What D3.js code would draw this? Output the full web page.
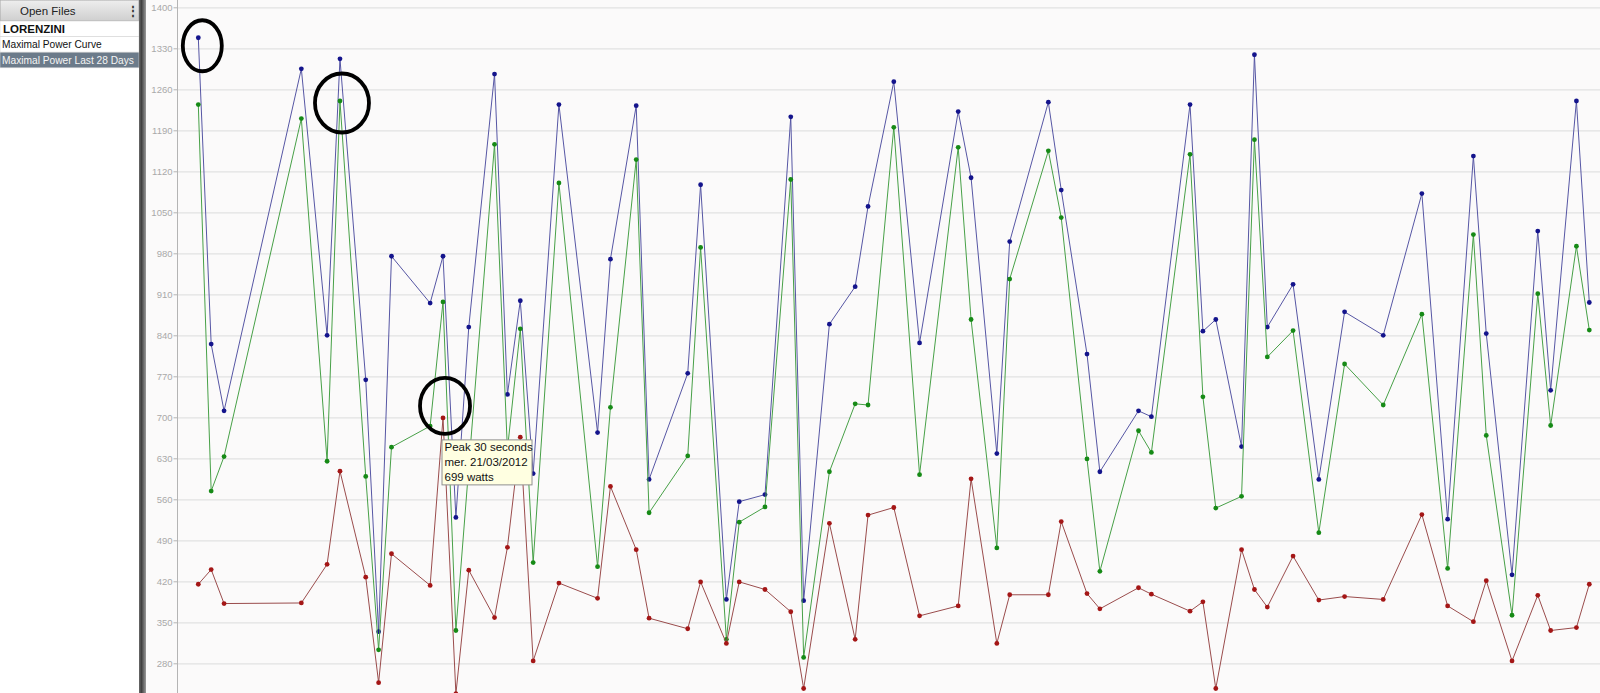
<!DOCTYPE html>
<html>
<head>
<meta charset="utf-8">
<script src="https://cdn.jsdelivr.net/npm/d3@7/dist/d3.min.js"></script>
<style>
  body { margin: 0; overflow: hidden; background: #fff; }
  svg { display: block; font-family: "Liberation Sans", Arial, sans-serif; }
</style>
</head>
<body>
<script>
const rideDates = [
    "2012-03-02", "2012-03-03", "2012-03-04", "2012-03-10", "2012-03-12", "2012-03-13",
    "2012-03-15", "2012-03-16", "2012-03-17", "2012-03-20", "2012-03-21", "2012-03-22",
    "2012-03-23", "2012-03-25", "2012-03-26", "2012-03-27", "2012-03-28", "2012-03-30",
    "2012-04-02", "2012-04-03", "2012-04-05", "2012-04-06", "2012-04-09", "2012-04-10",
    "2012-04-12", "2012-04-13", "2012-04-15", "2012-04-17", "2012-04-18", "2012-04-20",
    "2012-04-22", "2012-04-23", "2012-04-25", "2012-04-27", "2012-04-30", "2012-05-01",
    "2012-05-03", "2012-05-04", "2012-05-07", "2012-05-08", "2012-05-10", "2012-05-11",
    "2012-05-14", "2012-05-15", "2012-05-18", "2012-05-19", "2012-05-20", "2012-05-22",
    "2012-05-23", "2012-05-24", "2012-05-26", "2012-05-28", "2012-05-30", "2012-06-02",
    "2012-06-05", "2012-06-07", "2012-06-09", "2012-06-10", "2012-06-12", "2012-06-14",
    "2012-06-15", "2012-06-17", "2012-06-18"
];

// blue series
const peak5s = [
    1348, 825, 711, 1295, 840, 1312, 764, 334, 975, 895, 975, 529,
    854, 1286, 739, 899, 604, 1234, 674, 970, 1232, 594, 775, 1097,
    389, 556, 568, 1213, 387, 859, 923, 1060, 1273, 827, 1222, 1109,
    638, 1000, 1238, 1088, 808, 607, 711, 701, 1234, 847, 867, 650,
    1319, 854, 927, 594, 880, 840, 1082, 526, 1146, 843, 431, 1018,
    746, 1240, 896
];

// green series
const peak10s = [
    1234, 574, 633, 1210, 625, 1240, 599, 303, 649, 685, 897, 336,
    615, 1166, 645, 851, 452, 1100, 445, 717, 1140, 537, 634, 990,
    321, 521, 547, 1106, 290, 607, 723, 721, 1195, 602, 1161, 867,
    477, 936, 1155, 1041, 629, 437, 677, 640, 1149, 735, 545, 565,
    1174, 803, 848, 503, 791, 721, 876, 442, 1012, 669, 362, 911,
    686, 992, 849
];

// red series (Peak 30 seconds)
const peak30s = [
    415, 440, 382, 383, 449, 608, 427, 247, 467, 413, 699, 228,
    439, 358, 478, 666, 284, 417, 391, 582, 474, 357, 339, 419,
    314, 419, 406, 368, 237, 519, 321, 533, 546, 361, 378, 595,
    314, 397, 397, 522, 399, 373, 409, 398, 369, 385, 237, 474,
    406, 376, 463, 388, 394, 389, 534, 378, 351, 421, 284, 396,
    336, 341, 415
];

const yTickValues = [280, 350, 420, 490, 560, 630, 700, 770, 840, 910, 980, 1050, 1120, 1190, 1260, 1330, 1400];

const panelTitle = "Open Files";
const fileItems = ["LORENZINI", "Maximal Power Curve", "Maximal Power Last 28 Days"];

const tipLines = ["Peak 30 seconds", "mer. 21/03/2012", "699 watts"];
const tipIndex = 10;

let width = 1600, height = 693;
let plotLeft = 178;

let svg = d3.select("body").append("svg")
    .attr("width", width)
    .attr("height", height);

let parse = d3.utcParse("%Y-%m-%d");
let dates = rideDates.map(parse);

// ---- left panel ----
let panel = svg.append("g").attr("class", "panel");

panel.append("rect")
    .attr("width", 140).attr("height", height)
    .attr("fill", "#fff");

let hdr = svg.append("defs").append("linearGradient")
    .attr("id", "hdrGrad").attr("x1", 0).attr("y1", 0).attr("x2", 0).attr("y2", 1);
hdr.append("stop").attr("offset", "0%").attr("stop-color", "#eeeeee");
hdr.append("stop").attr("offset", "100%").attr("stop-color", "#cfcfcf");

let bar = svg.select("defs").append("linearGradient")
    .attr("id", "barGrad").attr("x1", 0).attr("y1", 0).attr("x2", 1).attr("y2", 0);
bar.append("stop").attr("offset", "0%").attr("stop-color", "#6a6a6a");
bar.append("stop").attr("offset", "35%").attr("stop-color", "#404040");
bar.append("stop").attr("offset", "100%").attr("stop-color", "#9a9a9a");

panel.append("rect")
    .attr("x", 0).attr("y", 0).attr("width", 139).attr("height", 21)
    .attr("fill", "url(#hdrGrad)").attr("stroke", "#a8a8a8").attr("stroke-width", 1);

panel.append("text")
    .attr("x", 20).attr("y", 15)
    .attr("font-size", 11.5).attr("fill", "#222")
    .text(panelTitle);

panel.append("text")
    .attr("x", 133).attr("y", 15)
    .attr("font-size", 12).attr("font-weight", "bold").attr("fill", "#333")
    .attr("text-anchor", "middle")
    .text("\u22EE");

let rows = panel.selectAll(".row")
    .data(fileItems)
    .enter()
    .append("g")
    .attr("class", "row")
    .attr("transform", function (d, i) {
        return "translate(0," + (21 + i * 15.6) + ")";
    });

rows.append("rect")
    .attr("width", 139).attr("height", 15.6)
    .attr("fill", function (d, i) { return i == 2 ? "#6c7b8a" : "#fff"; })
    .attr("stroke", "#d4d4d4").attr("stroke-width", 0.6);

rows.append("text")
    .attr("x", function (d, i) { return i == 0 ? 3 : 2; })
    .attr("y", 11.8)
    .attr("font-size", function (d, i) { return i == 0 ? 11.5 : 10.2; })
    .attr("font-weight", function (d, i) { return i == 0 ? "bold" : "normal"; })
    .attr("fill", function (d, i) { return i == 2 ? "#f4f4f4" : "#111"; })
    .text(function (d) { return d; });

panel.append("rect")
    .attr("x", 139).attr("y", 0).attr("width", 7).attr("height", height)
    .attr("fill", "url(#barGrad)");

// ---- plot area ----
svg.append("rect")
    .attr("x", 146).attr("y", 0)
    .attr("width", width - 146).attr("height", height)
    .attr("fill", "#fbfafa");

let x = d3.scaleUtc()
    .domain(d3.extent(dates))
    .range([198.3, 1589.3]);

let y = d3.scaleLinear()
    .domain([280, 1400])
    .range([663.3, 7.3]);

// grid
svg.append("g")
    .attr("class", "grid")
    .attr("transform", "translate(" + plotLeft + ",0)")
    .call(d3.axisRight(y).tickValues(yTickValues).tickSize(width - plotLeft).tickFormat(""))
    .call(g => g.select(".domain").remove())
    .call(g => g.selectAll("line").attr("stroke", "#e2e2e2").attr("stroke-width", 1.2));

// y axis
let yAxis = svg.append("g")
    .attr("class", "axis")
    .attr("transform", "translate(" + (plotLeft - 0.5) + ",0)")
    .call(d3.axisLeft(y).tickValues(yTickValues).tickFormat(d3.format("d"))
        .tickSize(4).tickPadding(1).tickSizeOuter(0));

yAxis.select(".domain").remove();
yAxis.selectAll("line").attr("stroke", "#b4b4b4");
yAxis.selectAll("text")
    .attr("fill", "#a9a9a9")
    .attr("font-size", 9.5)
    .attr("font-family", "\"Liberation Sans\", Arial, sans-serif");

svg.append("line")
    .attr("x1", plotLeft - 0.5).attr("x2", plotLeft - 0.5)
    .attr("y1", 0).attr("y2", height)
    .attr("stroke", "#b4b4b4");

svg.select("defs").append("clipPath")
    .attr("id", "clip")
    .append("rect")
    .attr("x", plotLeft).attr("y", 0)
    .attr("width", width - plotLeft).attr("height", height);

let plot = svg.append("g").attr("clip-path", "url(#clip)");

let series = [
    { values: peak5s, line: "#5656a4", dot: "#14148c" },
    { values: peak10s, line: "#47a047", dot: "#168a16" },
    { values: peak30s, line: "#9a4c4c", dot: "#a41616" }
];

let line = d3.line()
    .x(function (d) { return x(d.date); })
    .y(function (d) { return y(d.value); });

series.forEach(function (s) {
    let pts = s.values.map(function (v, i) {
        return { date: dates[i], value: v };
    });

    plot.append("path")
        .datum(pts)
        .attr("fill", "none")
        .attr("stroke", s.line)
        .attr("stroke-width", 1)
        .attr("d", line);

    plot.selectAll(null)
        .data(pts)
        .enter()
        .append("circle")
        .attr("cx", function (d) { return x(d.date); })
        .attr("cy", function (d) { return y(d.value); })
        .attr("r", 2.4)
        .attr("fill", s.dot);
});

// hand drawn rings around three points
let rings = [
    { i: 0, v: peak5s[0], dx: 4, dy: 8, rx: 19.5, ry: 25.5 },
    { i: 5, v: peak10s[5], dx: 2, dy: 2, rx: 27, ry: 29.5 },
    { i: tipIndex, v: peak30s[tipIndex], dx: 2, dy: -12, rx: 25, ry: 28 }
];

plot.selectAll(".ring")
    .data(rings)
    .enter()
    .append("ellipse")
    .attr("class", "ring")
    .attr("cx", function (d) { return x(dates[d.i]) + d.dx; })
    .attr("cy", function (d) { return y(d.v) + d.dy; })
    .attr("rx", function (d) { return d.rx; })
    .attr("ry", function (d) { return d.ry; })
    .attr("fill", "none")
    .attr("stroke", "#000")
    .attr("stroke-width", 3.8);

// tooltip
let tx = x(dates[tipIndex]) - 1.5,
    ty = y(peak30s[tipIndex]) + 21.5;

let tip = svg.append("g")
    .attr("transform", "translate(" + tx + "," + ty + ")");

tip.append("rect")
    .attr("x", 0.5).attr("y", 0.5)
    .attr("width", 90).attr("height", 45)
    .attr("fill", "#ffffe1")
    .attr("stroke", "#909090");

tip.selectAll("text")
    .data(tipLines)
    .enter()
    .append("text")
    .attr("x", 3)
    .attr("y", function (d, i) { return 12 + i * 14.8; })
    .attr("font-size", 11.5)
    .attr("fill", "#111")
    .text(function (d) { return d; });
</script>
</body>
</html>
